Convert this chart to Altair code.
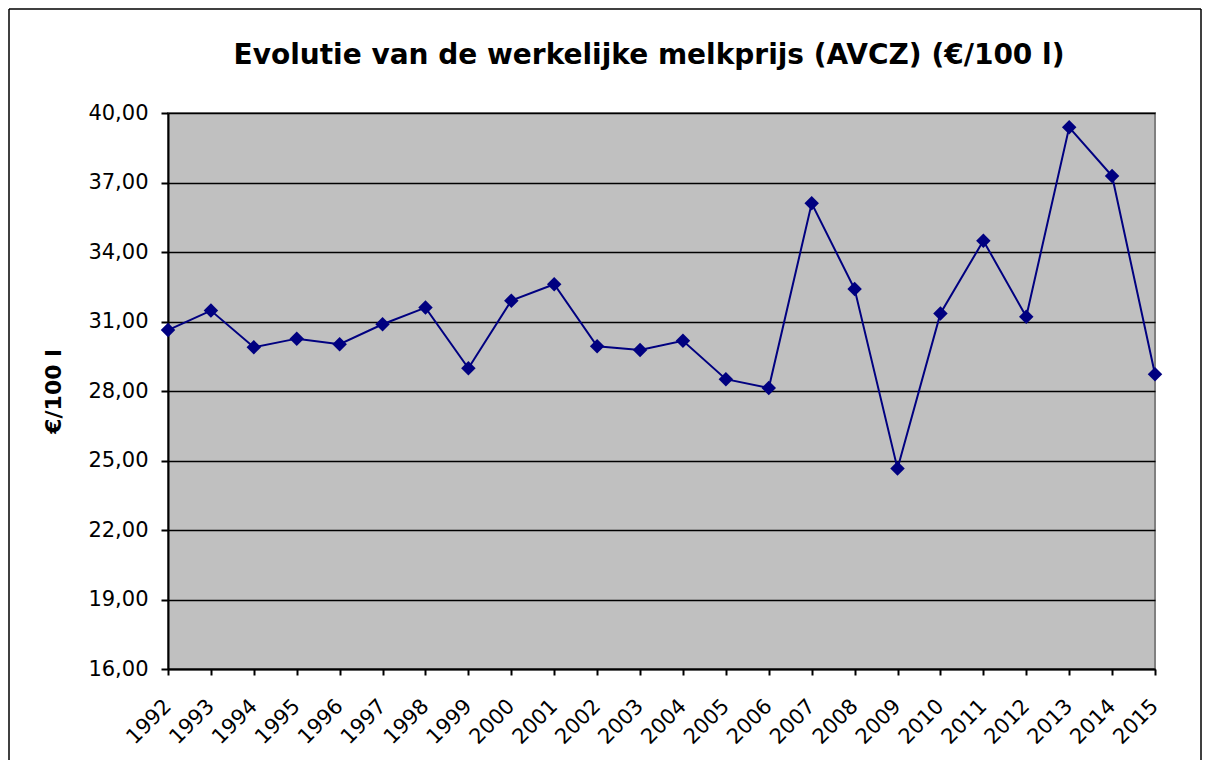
import altair as alt
import pandas as pd

years = [str(y) for y in range(1992, 2016)]
prices = [30.63, 31.47, 29.89, 30.26, 30.02, 30.88, 31.60, 28.98, 31.90, 32.61,
          29.93, 29.77, 30.17, 28.51, 28.13, 36.10, 32.40, 24.65, 31.35, 34.49,
          31.21, 39.38, 37.28, 28.72]
y_ticks = [16, 19, 22, 25, 28, 31, 34, 37, 40]
title_text = "Evolutie van de werkelijke melkprijs (AVCZ) (€/100 l)"

df = pd.DataFrame({"jaar": years, "prijs": prices})

FONT = "DejaVu Sans"

x_enc = alt.X("jaar:O", title=None,
              scale=alt.Scale(type="point", padding=0),
              axis=alt.Axis(labelAngle=-45, labelAlign="right", labelBaseline="top",
                            labelFontSize=21, labelFont=FONT, labelColor="black",
                            labelPadding=20, labelOffset=-8,
                            tickSize=6, tickColor="black", tickWidth=2,
                            domainColor="black", domainWidth=2, grid=False))
y_enc = alt.Y("prijs:Q", title="€/100 l",
              scale=alt.Scale(domain=[16, 40], nice=False, zero=False),
              axis=alt.Axis(values=y_ticks,
                            labelExpr="replace(format(datum.value, '.2f'), '.', ',')",
                            labelFontSize=21, labelFont=FONT, labelColor="black",
                            labelPadding=13, tickSize=7, tickColor="black", tickWidth=2,
                            domainColor="black", domainWidth=2,
                            grid=True, gridColor="black", gridWidth=1.5,
                            titleFont=FONT, titleFontSize=22, titleFontWeight="bold",
                            titleColor="black", titlePadding=22))

one = pd.DataFrame({"a": [0]})
frame_left = alt.Chart(one).mark_rule(color="black", strokeWidth=1.5).encode(
    x=alt.value(-159), y=alt.value(-104), y2=alt.value(660))
frame_top = alt.Chart(one).mark_rule(color="black", strokeWidth=1.5).encode(
    x=alt.value(-159), x2=alt.value(1033), y=alt.value(-104))
frame_right = alt.Chart(one).mark_rule(color="black", strokeWidth=1.5).encode(
    x=alt.value(1033), y=alt.value(-104), y2=alt.value(660))

title = alt.Chart(pd.DataFrame({"t": [title_text]})).mark_text(
    font=FONT, fontSize=28, fontWeight="bold", color="black",
    align="center", baseline="alphabetic"
).encode(text="t:N", x=alt.value(481), y=alt.value(-49))

line = alt.Chart(df).mark_line(color="#000080", strokeWidth=2).encode(x=x_enc, y=y_enc)
pts = alt.Chart(df).mark_point(shape="diamond", filled=True, color="#000080",
                               size=210, opacity=1).encode(x=x_enc, y=y_enc)

chart = alt.layer(frame_left, frame_top, frame_right, title, line, pts).properties(
    width=987, height=556,
    autosize=alt.AutoSizeParams(type="none"),
    padding={"left": 160, "top": 105, "right": 47, "bottom": 91},
    background="white",
).configure_view(fill="#C0C0C0", stroke="#808080", strokeWidth=2)

chart.save("out.html", embed_options={"renderer": "svg", "actions": False})
